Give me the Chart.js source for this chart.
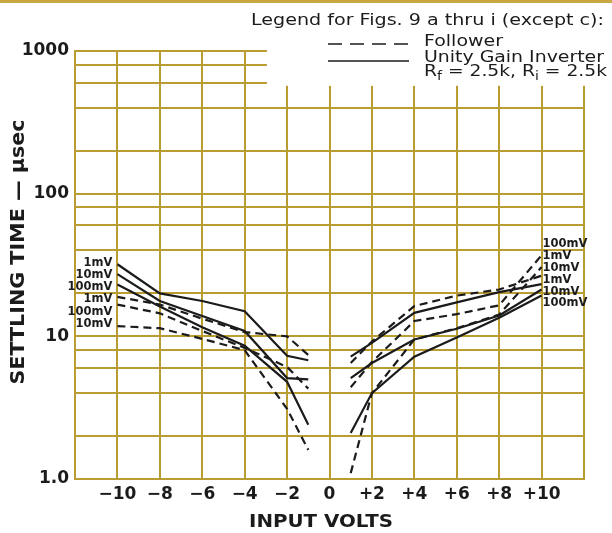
<!DOCTYPE html>
<html>
<head>
<meta charset="utf-8">
<script src="https://cdn.jsdelivr.net/npm/chart.js@4.4.1/dist/chart.umd.min.js"></script>
<style>
  html, body { margin: 0; padding: 0; background: #fff; }
  #wrap { width: 612px; height: 533px; position: relative; }
</style>
</head>
<body>
<div id="wrap"><canvas id="chart" width="612" height="533"></canvas></div>
<script>
// input volts where each curve was read
const xLeft = [-10, -8, -6, -4, -2, -1];
const xRight = [1, 2, 4, 6, 8, 10];

// settling time, usec - unity gain inverter (solid)
const invLeft1mV = [32, 20, 17.7, 15, 7.3, 6.8];
const invLeft10mV = [27.3, 17.7, 13.9, 10.9, 5.1, 5.0];
const invLeft100mV = [23.1, 16.2, 11.6, 8.6, 4.8, 2.4];
const invRight1mV = [7.2, 9.0, 14.6, 17.3, 20.4, 23.2];
const invRight10mV = [5.1, 6.5, 9.5, 11.3, 14, 21.3];
const invRight100mV = [2.1, 4.0, 7.2, 9.8, 13.5, 19.3];

// settling time, usec - follower (dashed)
const folLeft1mV = [18.9, 16.7, 13.3, 10.7, 10, 7.4];
const folLeft100mV = [16.7, 14.5, 10.9, 8.3, 6.1, 4.3];
const folLeft10mV = [11.8, 11.4, 9.6, 8.0, 3.1, 1.6];
const folRight10mV = [6.5, 9.2, 16.3, 19.3, 21.3, 26.6];
const folRight100mV = [4.4, 6.6, 12.8, 14.3, 16.5, 37];
const folRight1mV = [1.1, 4.0, 9.5, 11.4, 14.2, 30.6];

// axis ticks
const xTicks = [-12, -10, -8, -6, -4, -2, 0, 2, 4, 6, 8, 10, 12];
const yTicks = [1, 2, 4, 6, 8, 10, 20, 40, 60, 80, 100, 200, 400, 600, 800, 1000];
const yTickLabels = { 1: '1.0', 10: '10', 100: '100', 1000: '1000' };

const GRID = '#b99d32';
const INK = '#1b1b1b';
const FONT = '"DejaVu Sans", sans-serif';

function curve(label, side, xs, vals, dashed) {
    return {
        label: label,
        side: side,
        data: xs.map((x, i) => ({ x: x, y: vals[i] })),
        borderColor: INK,
        borderWidth: 2.2,
        borderDash: dashed ? [8, 5] : [],
        pointRadius: 0,
        tension: 0,
        fill: false
    };
}

const datasets = [
    curve('1mV', 'left', xLeft, invLeft1mV, false),
    curve('10mV', 'left', xLeft, invLeft10mV, false),
    curve('100mV', 'left', xLeft, invLeft100mV, false),
    curve('1mV', 'left', xLeft, folLeft1mV, true),
    curve('100mV', 'left', xLeft, folLeft100mV, true),
    curve('10mV', 'left', xLeft, folLeft10mV, true),
    curve('1mV', 'right', xRight, invRight1mV, false),
    curve('10mV', 'right', xRight, invRight10mV, false),
    curve('100mV', 'right', xRight, invRight100mV, false),
    curve('10mV', 'right', xRight, folRight10mV, true),
    curve('100mV', 'right', xRight, folRight100mV, true),
    curve('1mV', 'right', xRight, folRight1mV, true)
];

// draws text squeezed/stretched to a given width
function fitText(ctx, text, x, y, font, width, align) {
    ctx.save();
    ctx.font = font;
    ctx.textBaseline = 'middle';
    ctx.textAlign = 'left';
    const w = ctx.measureText(text).width;
    const k = width ? width / w : 1;
    let left = x;
    if (align === 'center') left = x - w * k / 2;
    if (align === 'right') left = x - w * k;
    ctx.translate(left, y);
    ctx.scale(k, 1);
    ctx.fillText(text, 0, 0);
    ctx.restore();
}

const paperPlugin = {
    id: 'paper',
    beforeDatasetsDraw(chart) {
        const ctx = chart.ctx;
        const xs = chart.scales.x, ys = chart.scales.y;
        // blank corner where the legend sits
        ctx.save();
        ctx.fillStyle = '#fff';
        const x0 = xs.getPixelForValue(-2.95);
        const y1 = ys.getPixelForValue(570);
        ctx.fillRect(x0, 0, chart.width - x0, y1);
        ctx.fillStyle = '#c9a843';
        ctx.fillRect(0, 0, chart.width, 3);
        ctx.restore();
    },
    afterDraw(chart) {
        const ctx = chart.ctx;
        ctx.save();
        ctx.fillStyle = INK;

        // curve labels, stacked next to the curve ends
        ['left', 'right'].forEach(side => {
            const items = [];
            chart.data.datasets.forEach((ds, i) => {
                const meta = chart.getDatasetMeta(i);
                const pt = side === 'left' ? meta.data[0] : meta.data[meta.data.length - 1];
                if (ds.side === side) items.push({ label: ds.label, y: pt.y, x: pt.x });
            });
            items.sort((a, b) => a.y - b.y);
            const gap = side === 'left' ? 12.2 : 11.8;
            const mean = items.reduce((s, it) => s + it.y, 0) / items.length + (side === 'left' ? 1.5 : -4);
            items.forEach((it, k) => {
                const yy = mean + (k - (items.length - 1) / 2) * gap;
                if (side === 'left') {
                    fitText(ctx, it.label, it.x - 5, yy, 'bold 11.5px ' + FONT, 0, 'right');
                } else {
                    fitText(ctx, it.label, it.x + 1, yy, 'bold 11.5px ' + FONT, 0, 'left');
                }
            });
        });

        // axis titles
        ctx.save();
        ctx.translate(19, 252);
        ctx.rotate(-Math.PI / 2);
        fitText(ctx, 'SETTLING TIME \u2014 \u00b5sec', 0, 0, 'bold 19px ' + FONT, 265, 'center');
        ctx.restore();
        fitText(ctx, 'INPUT VOLTS', 321, 522, 'bold 18px ' + FONT, 144, 'center');

        // legend block
        const lf = '16px ' + FONT;
        fitText(ctx, 'Legend for Figs. 9 a thru i (except c):', 251, 21, lf, 353, 'left');
        fitText(ctx, 'Follower', 424, 42, lf, 79, 'left');
        fitText(ctx, 'Unity Gain Inverter', 424, 58, lf, 180, 'left');

        // R_f = 2.5k, R_i = 2.5k with subscripts
        const parts = [['R', 0], ['f', 1], [' = 2.5k, R', 0], ['i', 1], [' = 2.5k', 0]];
        const sf = '12px ' + FONT;
        let total = 0;
        parts.forEach(p => { ctx.font = p[1] ? sf : lf; total += ctx.measureText(p[0]).width; });
        const k = 183 / total;
        let px = 424;
        parts.forEach(p => {
            ctx.font = p[1] ? sf : lf;
            const w = ctx.measureText(p[0]).width * k;
            fitText(ctx, p[0], px, p[1] ? 77 : 72, p[1] ? sf : lf, w, 'left');
            px += w;
        });

        ctx.strokeStyle = INK;
        ctx.lineWidth = 1.6;
        ctx.setLineDash([14, 8]);
        ctx.beginPath();
        ctx.moveTo(328, 44);
        ctx.lineTo(409, 44);
        ctx.stroke();
        ctx.setLineDash([]);
        ctx.beginPath();
        ctx.moveTo(328, 61);
        ctx.lineTo(409, 61);
        ctx.stroke();
        ctx.restore();
    }
};

new Chart(document.getElementById('chart'), {
    type: 'line',
    data: { datasets: datasets },
    options: {
        responsive: false,
        animation: false,
        layout: { padding: { top: 51, right: 28, left: 0, bottom: 0 } },
        plugins: { legend: { display: false }, tooltip: { enabled: false } },
        scales: {
            x: {
                type: 'linear',
                min: -12,
                max: 12,
                afterBuildTicks: s => { s.ticks = xTicks.map(v => ({ value: v })); },
                afterFit: s => { s.height = 54; },
                ticks: {
                    padding: 5,
                    color: INK,
                    font: { family: FONT, size: 17, weight: 'bold' },
                    maxRotation: 0,
                    autoSkip: false,
                    callback: v => {
                        if (v === -12 || v === 12) return '';
                        if (v === 0) return '0';
                        return v < 0 ? '\u2212' + (-v) : '+' + v;
                    }
                },
                grid: { color: GRID, lineWidth: 2, drawTicks: false },
                border: { display: true, color: GRID, width: 2 }
            },
            y: {
                type: 'logarithmic',
                min: 1,
                max: 1000,
                afterBuildTicks: s => { s.ticks = yTicks.map(v => ({ value: v })); },
                afterFit: s => { s.width = 75; },
                ticks: {
                    padding: 6,
                    color: INK,
                    font: { family: FONT, size: 17, weight: 'bold' },
                    autoSkip: false,
                    callback: v => yTickLabels[v] || ''
                },
                grid: { color: GRID, lineWidth: 2, drawTicks: false },
                border: { display: true, color: GRID, width: 2 }
            }
        }
    },
    plugins: [paperPlugin]
});
</script>
</body>
</html>
